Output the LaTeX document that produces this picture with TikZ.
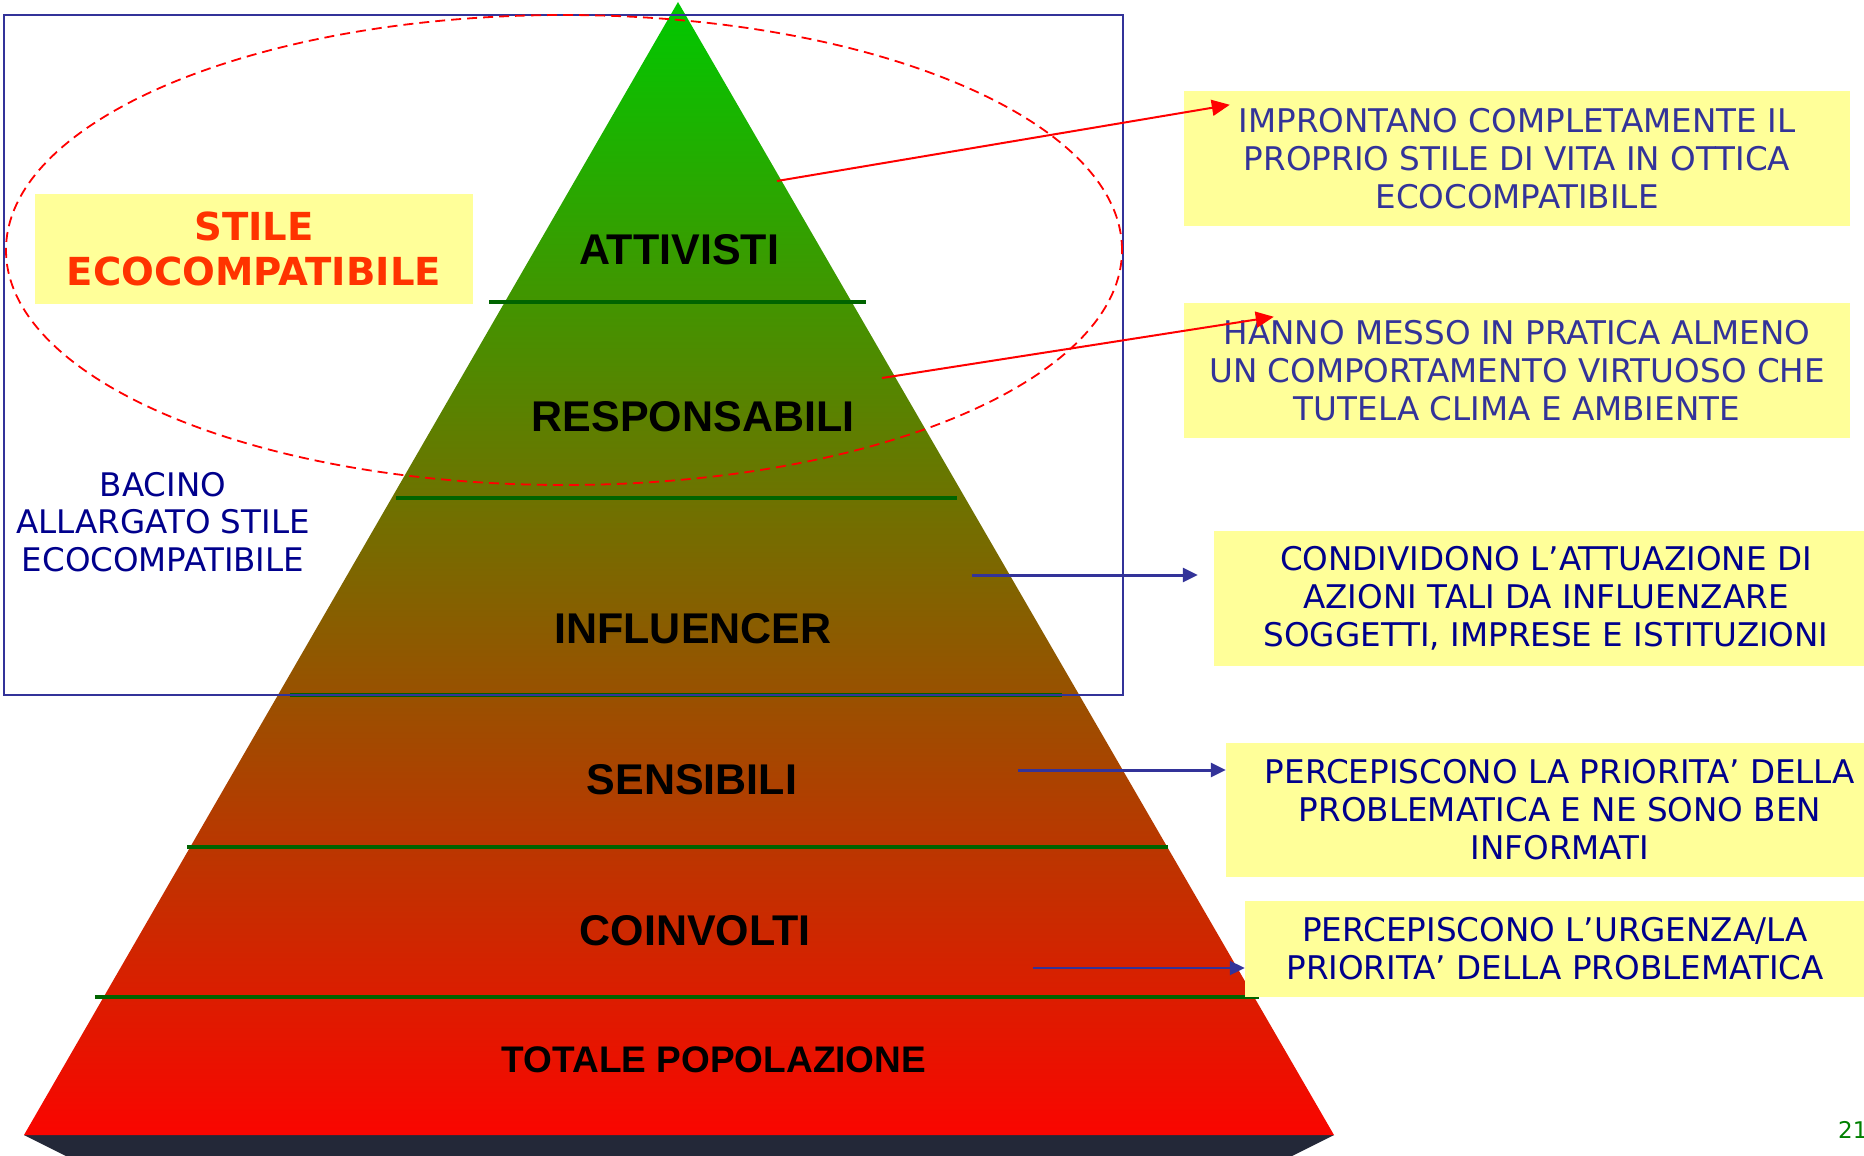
\documentclass[tikz,border=0pt]{standalone}
\usepackage{fontspec}
\setmainfont{DejaVu Sans}
\newfontfamily\tierfont{Liberation Sans}
\usepackage{tikz}
\usetikzlibrary{shapes.geometric, arrows.meta, calc, positioning}
\definecolor{boxyellow}{RGB}{255,255,153}
\definecolor{slateblue}{RGB}{51,51,153}
\definecolor{navytext}{RGB}{0,0,140}
\definecolor{tiergreen}{RGB}{0,100,0}
\definecolor{stilered}{RGB}{255,51,0}
\definecolor{basedark}{RGB}{35,40,56}
\definecolor{numgreen}{RGB}{0,128,0}
\definecolor{topgreen}{RGB}{0,200,0}
\definecolor{botred}{RGB}{250,5,0}

\begin{document}
\begin{tikzpicture}[x=1pt, y=-1pt, >={Stealth[inset=0pt, length=18pt, width=16pt]},
	tier/.style={anchor=base, inner sep=0pt, font=\tierfont\bfseries\fontsize{43}{48}\selectfont},
	divider/.style={draw=tiergreen, line width=4pt},
	infobox/.style={fill=boxyellow, inner sep=0pt, minimum width=666pt, minimum height=135pt, align=center, font=\fontsize{32.6}{38}\selectfont},
	redarrow/.style={->, draw=red, line width=2pt},
	bluearrow/.style={->, draw=slateblue, line width=3pt, >={Stealth[inset=0pt, length=15pt, width=14pt]}}]
	\useasboundingbox (0,0) rectangle (1864,1156);
	\clip (0,0) rectangle (1864,1156);
	
	\coordinate (apex) at (678,2);
	\coordinate (bl) at (24,1135);
	\coordinate (br) at (1334,1135);
	\fill[basedark] (bl) -- (br) -- (1284,1160) -- (74,1160) -- cycle;
	\shade[top color=topgreen, bottom color=botred] (apex) -- (br) -- (bl) -- cycle;
	\foreach \y/\l/\r in {302/489/866, 498/396/957, 695/290/1062, 847/187/1168, 997/95/1259}
		\draw[divider] (\l,\y) -- (\r,\y);
	
	\node[tier] (att)  at (679,264)  {ATTIVISTI};
	\node[tier] (resp) at (693,431)  {RESPONSABILI};
	\node[tier] (infl) at (693,643)  {INFLUENCER};
	\node[tier] (sens) at (692,794)  {SENSIBILI};
	\node[tier] (coin) at (695,945)  {COINVOLTI};
	\node[tier, font=\tierfont\bfseries\fontsize{37}{42}\selectfont] (tot) at (714,1072) {TOTALE POPOLAZIONE};
	
	\draw[slateblue, line width=2pt] (4,15) rectangle (1123,695);
	\draw[red, dash pattern=on 10pt off 6pt, line width=1.8pt] (564,250) ellipse [x radius=558pt, y radius=235pt];
	
	\node[fill=boxyellow, minimum width=438pt, minimum height=110pt, inner sep=0pt, align=center, text=stilered,
		font=\bfseries\fontsize{38.6}{45}\selectfont] (stile) at (254,249) {STILE\\ECOCOMPATIBILE};
	\node[align=center, inner sep=0pt, text=navytext, font=\fontsize{32.5}{37.5}\selectfont] (bacino) at (163,522)
		{BACINO\\ALLARGATO STILE\\ECOCOMPATIBILE};
	
	\node[infobox, text=slateblue] (impr) at (1517,158.5) {IMPRONTANO COMPLETAMENTE IL\\PROPRIO STILE DI VITA IN OTTICA\\ECOCOMPATIBILE};
	\node[infobox, text=slateblue] (hanno) at (1517,370.5) {HANNO MESSO IN PRATICA ALMENO\\UN COMPORTAMENTO VIRTUOSO CHE\\TUTELA CLIMA E AMBIENTE};
	\node[infobox, text=navytext, minimum width=664pt] (cond) at (1546,598.5) {CONDIVIDONO L’ATTUAZIONE DI\\AZIONI TALI DA INFLUENZARE\\SOGGETTI, IMPRESE E ISTITUZIONI};
	\node[infobox, text=navytext, minimum width=668pt, minimum height=134pt] (perc) at (1560,810) {PERCEPISCONO LA PRIORITA’ DELLA\\PROBLEMATICA E NE SONO BEN\\INFORMATI};
	\node[infobox, text=navytext, minimum width=620pt, minimum height=96pt] (urg) at (1555,949) {PERCEPISCONO L’URGENZA/LA\\PRIORITA’ DELLA PROBLEMATICA};
	
	\coordinate (s1) at (777,181);
	\coordinate (s2) at (882,378);
	\coordinate (s3) at (972,575);
	\coordinate (s4) at (1018,770);
	\coordinate (s5) at (1033,968);
	\draw[redarrow] (s1) -- ($(impr.north west)+(46,14)$);
	\draw[redarrow] (s2) -- ($(hanno.north west)+(90,14)$);
	\draw[bluearrow, shorten >=16pt] (s3) -- (s3 -| cond.west);
	\draw[bluearrow] (s4) -- (s4 -| perc.west);
	\draw[bluearrow, line width=2pt] (s5) -- (s5 -| urg.west);
	
	\node[anchor=base west, inner sep=0pt, text=numgreen, font=\fontsize{23}{26}\selectfont] (pnum) at (1838,1138) {21};
\end{tikzpicture}
\end{document}
